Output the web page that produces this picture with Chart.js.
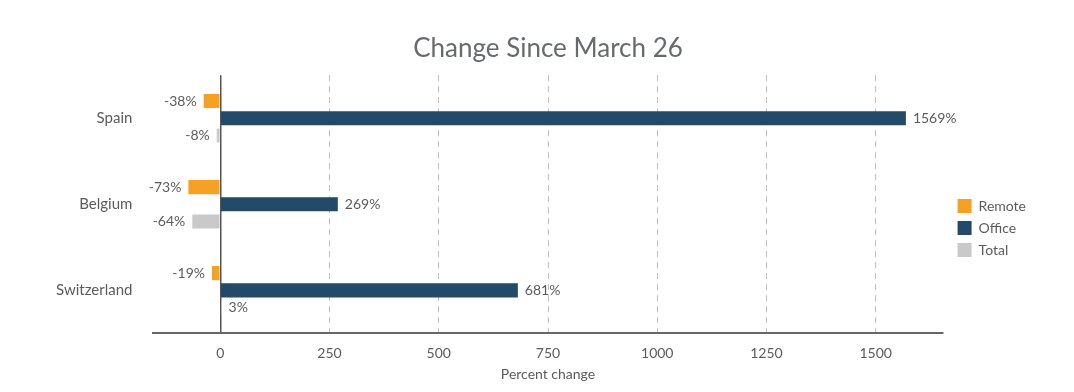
<!DOCTYPE html>
<html>
<head>
<meta charset="utf-8">
<script src="https://cdn.jsdelivr.net/npm/chart.js@4.4.1/dist/chart.umd.min.js"></script>
<style>
  html, body { margin: 0; padding: 0; background: #fff; }
  #wrap { width: 1074px; height: 392px; }
</style>
</head>
<body>
<div id="wrap"><canvas id="chart"></canvas></div>
<script>
// --- Chart data ---
const countries = ['Spain', 'Belgium', 'Switzerland'];
const remoteChange = [-38, -73, -19];
const officeChange = [1569, 269, 681];
const totalChange = [-8, -64, 3];
const xTicks = [0, 250, 500, 750, 1000, 1250, 1500];

const textColor = '#5b5b5b';

// Draws the "NN%" label at the end of each bar
const barValueLabels = {
    id: 'barValueLabels',
    afterDatasetsDraw(chart) {
        const ctx = chart.ctx;
        ctx.save();
        ctx.font = '14px Lato';
        ctx.fillStyle = textColor;
        ctx.textBaseline = 'middle';
        chart.data.datasets.forEach((ds, i) => {
            const meta = chart.getDatasetMeta(i);
            meta.data.forEach((bar, j) => {
                const v = ds.data[j];
                if (v < 0) {
                    ctx.textAlign = 'right';
                    ctx.fillText(v + '%', bar.x - 7, bar.y);
                } else {
                    ctx.textAlign = 'left';
                    ctx.fillText(v + '%', bar.x + 7, bar.y);
                }
            });
        });
        ctx.restore();
    }
};

// Leaves a bit more room between the plot and the legend
const legendGap = {
    id: 'legendGap',
    beforeInit(chart) {
        const origFit = chart.legend.fit;
        chart.legend.fit = function() {
            origFit.call(this);
            this.width += 7;
        };
    },
    afterLayout(chart) {
        chart.legend.left += 7;
        chart.legend.right += 7;
    }
};

new Chart(document.getElementById('chart'), {
    type: 'bar',
    data: {
        labels: countries,
        datasets: [
            { label: 'Remote', data: remoteChange, backgroundColor: '#f7a026' },
            { label: 'Office', data: officeChange, backgroundColor: '#234a68' },
            { label: 'Total', data: totalChange, backgroundColor: '#c9c9c9' }
        ]
    },
    options: {
        indexAxis: 'y',
        responsive: true,
        maintainAspectRatio: false,
        animation: false,
        datasets: {
            bar: { categoryPercentage: 0.6, barPercentage: 0.82, borderWidth: 0 }
        },
        layout: { padding: { left: 43, right: 38, top: 33, bottom: 9 } },
        plugins: {
            title: {
                display: true,
                text: 'Change Since March 26',
                fullSize: false,
                color: '#676a6e',
                font: { family: 'Lato', size: 26, weight: 'normal' },
                padding: { top: 0, bottom: 11 }
            },
            legend: {
                position: 'right',
                title: {
                    display: true,
                    text: '',
                    font: { family: 'Lato', size: 10 },
                    padding: { top: 28, bottom: 0 }
                },
                labels: {
                    boxWidth: 14,
                    boxHeight: 14,
                    padding: 8,
                    color: textColor,
                    font: { family: 'Lato', size: 14 }
                }
            },
            tooltip: { enabled: false }
        },
        scales: {
            x: {
                min: -153,
                max: 1653,
                afterBuildTicks: (scale) => {
                    scale.ticks = xTicks.map(v => ({ value: v }));
                },
                grid: {
                    drawTicks: false,
                    color: (c) => c.tick && c.tick.value === 0 ? '#555' : '#bdbdbd',
                    lineWidth: (c) => c.tick && c.tick.value === 0 ? 1.5 : 1
                },
                border: {
                    display: true,
                    color: '#666',
                    width: 2,
                    dash: (c) => c.tick && c.tick.value !== 0 ? [6, 5] : []
                },
                ticks: {
                    padding: 12,
                    color: textColor,
                    font: { family: 'Lato', size: 14 },
                    callback: (v) => String(v)
                },
                title: {
                    display: true,
                    text: 'Percent change',
                    color: textColor,
                    font: { family: 'Lato', size: 14 },
                    padding: { top: -8, bottom: 0 }
                }
            },
            y: {
                grid: { display: false },
                border: { display: false },
                ticks: {
                    padding: 13,
                    color: textColor,
                    font: { family: 'Lato', size: 15 }
                }
            }
        }
    },
    plugins: [barValueLabels, legendGap]
});
</script>
</body>
</html>
